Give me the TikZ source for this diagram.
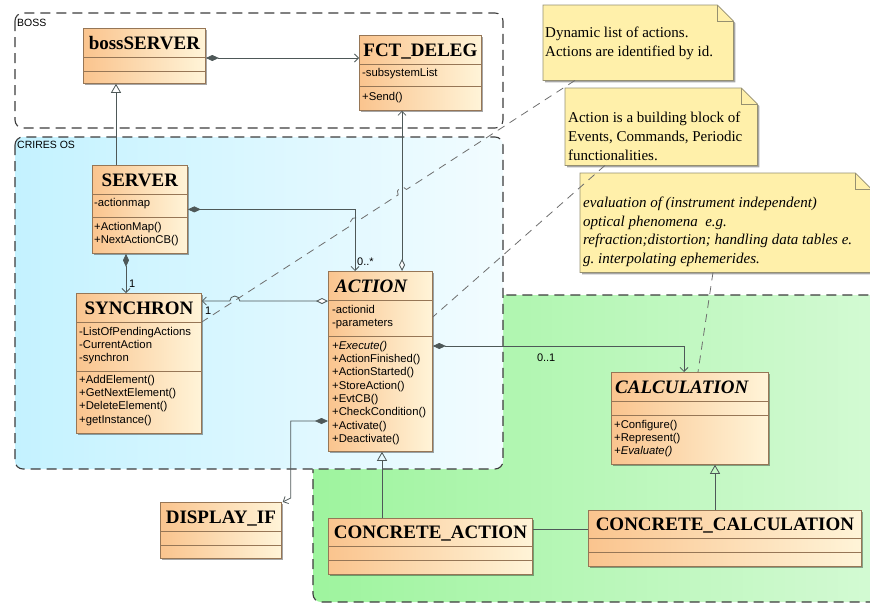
\documentclass[tikz,border=0pt]{standalone}
\usepackage{fontspec}
\usepackage{tikz}
\usetikzlibrary{calc,arrows.meta,shadows}

\newfontfamily\umlserif{Liberation Serif}
\newfontfamily\umlsans{Liberation Sans}
\frenchspacing

\definecolor{clsL}{RGB}{250,196,142}
\definecolor{clsR}{RGB}{255,244,216}
\definecolor{clsedge}{RGB}{150,118,86}
\definecolor{notefill}{RGB}{255,240,170}
\definecolor{noteedge}{RGB}{150,144,112}
\definecolor{criL}{RGB}{196,242,255}
\definecolor{criR}{RGB}{242,252,255}
\definecolor{grnL}{RGB}{158,244,158}
\definecolor{grnR}{RGB}{212,250,212}
\definecolor{wirecol}{RGB}{78,88,88}
\definecolor{notelinecol}{RGB}{110,110,110}
\definecolor{pkgedge}{RGB}{60,60,60}

\tikzset{
  pkg/.style={draw=pkgedge,line width=1.1pt,dash pattern=on 10pt off 6pt,rounded corners=8pt},
  pkglabel/.style={font=\umlsans\fontsize{10.5}{12}\selectfont,anchor=west,inner sep=0pt},
  cls/.style={draw=clsedge,line width=.8pt,left color=clsL,right color=clsR,anchor=north west,inner sep=0pt,
    drop shadow={shadow xshift=2pt,shadow yshift=-2pt,opacity=.35,fill=black}},
  divider/.style={draw=clsedge,line width=.8pt},
  ttl/.style={font=\umlserif\bfseries\fontsize{19}{22}\selectfont,anchor=base,inner sep=0pt},
  absttl/.style={ttl,font=\umlserif\bfseries\itshape\fontsize{19}{22}\selectfont,anchor=base west},
  mem/.style={font=\umlsans\fontsize{11.3}{13.3}\selectfont,align=left,anchor=north west,inner sep=0pt},
  mult/.style={font=\umlsans\fontsize{11}{13}\selectfont,anchor=west,inner sep=0pt},
  notebox/.style={anchor=north west,inner sep=0pt},
  notepaper/.style={fill=notefill,draw=noteedge,line width=.8pt,
    drop shadow={shadow xshift=2pt,shadow yshift=-2pt,opacity=.35,fill=black}},
  notetxt/.style={font=\umlserif\fontsize{15}{18.8}\selectfont,align=left,anchor=north west,inner sep=0pt},
  assoc/.style={draw=wirecol,line width=.8pt},
  comp/.style={assoc,arrows={Diamond[length=13pt,width=6pt,fill=wirecol]-Straight Barb[length=4pt,width=8pt]}},
  aggr/.style={assoc,arrows={Diamond[length=12pt,width=6pt,fill=white]-Straight Barb[length=4pt,width=8pt]}},
  gen/.style={assoc,arrows={-Triangle[open,length=9pt,width=10pt]}},
  notelink/.style={draw=notelinecol,line width=.8pt,dash pattern=on 8pt off 6pt}
}

\begin{document}
\begin{tikzpicture}[x=1pt,y=-1pt]
\useasboundingbox (0,0) rectangle (870,605);

% packages
\draw[pkg,left color=grnL,right color=grnR] (313,295) rectangle (885,602);
\draw[pkg,left color=criL,right color=criR] (15,137) rectangle (503,469);
\draw[pkg] (15,13) rectangle (503,128);
\node[pkglabel] (bossPkg) at (17,23) {BOSS};
\node[pkglabel] (criresPkg) at (17,145) {CRIRES OS};

% notes
\node[notebox,minimum width=190,minimum height=75] (n1) at (543,5) {};
\node[notebox,minimum width=192,minimum height=77] (n2) at (565,88) {};
\node[notebox,minimum width=291,minimum height=99] (n3) at (580,173) {};
\foreach \n in {n1,n2,n3}{
  \path[notepaper] (\n.north west) -- ($(\n.north east)+(-16,0)$) -- ($(\n.north east)+(0,16)$)
    -- (\n.south east) -- (\n.south west) -- cycle;
  \draw[noteedge,line width=.8pt] ($(\n.north east)+(-16,0)$) |- ($(\n.north east)+(0,16)$);
}
\node[notetxt] (n1txt) at ($(n1.north west)+(2,22)$) {Dynamic list of actions.\\Actions are identified by id.};
\node[notetxt] (n2txt) at ($(n2.north west)+(3,24)$) {Action is a building block of\\Events, Commands, Periodic\\functionalities.};
\node[notetxt,font=\umlserif\itshape\fontsize{15}{18.6}\selectfont] (n3txt) at ($(n3.north west)+(3,24)$)
  {evaluation of (instrument independent)\\optical phenomena~ e.g.\\refraction;distortion; handling data tables e.\\g. interpolating ephemerides.};

% classes
\node[cls,minimum width=122,minimum height=55] (boss) at (83,28) {};
\node[cls,minimum width=122,minimum height=75] (fct) at (359,35) {};
\node[cls,minimum width=95,minimum height=88] (server) at (92,165) {};
\node[cls,minimum width=125,minimum height=140] (synch) at (76,293) {};
\node[cls,minimum width=104,minimum height=180] (action) at (328,271) {};
\node[cls,minimum width=157,minimum height=92] (calc) at (611,372) {};
\node[cls,minimum width=121,minimum height=56] (disp) at (160,502) {};
\node[cls,minimum width=204,minimum height=56] (cact) at (328,518) {};
\node[cls,minimum width=273,minimum height=56] (ccalc) at (588,510) {};
\foreach \c/\a/\b in {boss/29/43,fct/29/51,server/29/52,synch/29/78,action/29/65,
    calc/29/43,disp/29/43,cact/28/42,ccalc/28/42}{
  \draw[divider] ($(\c.north west)+(0,\a)$) -- ($(\c.north east)+(0,\a)$);
  \draw[divider] ($(\c.north west)+(0,\b)$) -- ($(\c.north east)+(0,\b)$);
}

\node[ttl] (bossT) at ($(boss.north)+(0,21)$) {bossSERVER};
\node[ttl] (fctT) at ($(fct.north)+(0,21)$) {FCT\_DELEG};
\node[ttl] (serverT) at ($(server.north)+(0,21)$) {SERVER};
\node[ttl] (synchT) at ($(synch.north)+(0,21)$) {SYNCHRON};
\node[absttl] (actionT) at ($(action.north west)+(7,21)$) {ACTION};
\node[absttl] (calcT) at ($(calc.north west)+(4,21)$) {CALCULATION};
\node[ttl] (dispT) at ($(disp.north)+(0,21)$) {DISPLAY\_IF};
\node[ttl] (cactT) at ($(cact.north)+(0,20.5)$) {CONCRETE\_ACTION};
\node[ttl] (ccalcT) at ($(ccalc.north)+(0,20.5)$) {CONCRETE\_CALCULATION};

\node[mem] (fctA) at ($(fct.north west)+(3,33)$) {-subsystemList};
\node[mem] (fctO) at ($(fct.north west)+(3,57)$) {+Send()};
\node[mem] (serverA) at ($(server.north west)+(2,33)$) {-actionmap};
\node[mem] (serverO) at ($(server.north west)+(2,57)$) {+ActionMap()\\+NextActionCB()};
\node[mem] (synchA) at ($(synch.north west)+(3,34)$) {-ListOfPendingActions\\-CurrentAction\\-synchron};
\node[mem] (synchO) at ($(synch.north west)+(3,82)$) {+AddElement()\\+GetNextElement()\\+DeleteElement()\\+getInstance()};
\node[mem] (actionA) at ($(action.north west)+(4,34)$) {-actionid\\-parameters};
\node[mem] (actionO) at ($(action.north west)+(4,70)$) {{\itshape +Execute()}\\+ActionFinished()\\+ActionStarted()\\+StoreAction()\\+EvtCB()\\+CheckCondition()\\+Activate()\\+Deactivate()};
\node[mem] (calcO) at ($(calc.north west)+(3,48)$) {+Configure()\\+Represent()\\{\itshape +Evaluate()}};

% note links
\coordinate (l1s) at ($(n1.south west)+(32,0)$);
\coordinate (l1e) at ($(synch.north east)+(0,29)$);
\draw[notelink] (l1s) -- ($(l1s)!0.4514!(l1e)$) arc[start angle=327.1,end angle=147.1,radius=5]
  -- ($(l1s)!0.5770!(l1e)$) arc[start angle=327.1,end angle=147.1,radius=5] -- (l1e);
\draw[notelink] ($(n2.south west)+(40,0)$) -- ($(action.north east)+(0,46)$);
\draw[notelink] ($(n3.south west)+(133,0)$) -- ($(calc.north west)+(87,0)$);

% connectors
\draw[comp] ($(boss.north east)+(0,30)$) -- ($(fct.north west)+(0,23)$);
\draw[gen] ($(server.north west)+(24,0)$) -- ($(boss.south west)+(33,0)$);
\draw[comp] ($(server.south west)+(34,0)$) -- ($(synch.north west)+(50,0)$);
\node[mult] (m1) at ($(synch.north west)+(53,-9)$) {1};
\draw[comp] (server.east) -| ($(action.north west)+(27,0)$);
\node[mult] (m2) at ($(action.north west)+(29,-9)$) {0..*};
\draw[aggr] ($(action.north west)+(74,0)$) -- ($(fct.south west)+(43,0)$);
\draw[aggr] ($(action.north west)+(0,30)$) -- ($(synch.north east)+(38,8)$)
  arc[start angle=0,end angle=-180,radius=5] -- ($(synch.north east)+(0,8)$);
\node[mult] (m3) at ($(synch.north east)+(3,18)$) {1};
\draw[comp] ($(action.north east)+(0,75)$) -| ($(calc.north west)+(73,0)$);
\node[mult] (m4) at ($(action.north east)+(104,87)$) {0..1};
\draw[comp] ($(action.north west)+(0,150)$) -| ($(disp.north east)+(9,-4)$) -- ($(disp.north east)+(1,0)$);
\draw[gen] ($(cact.north west)+(54,0)$) -- ($(action.south west)+(54,0)$);
\draw[gen] ($(ccalc.north west)+(127,0)$) -- ($(calc.south west)+(104,0)$);
\draw[assoc] ($(cact.north east)+(0,11)$) -- ($(ccalc.north west)+(0,19)$);
\end{tikzpicture}
\end{document}
